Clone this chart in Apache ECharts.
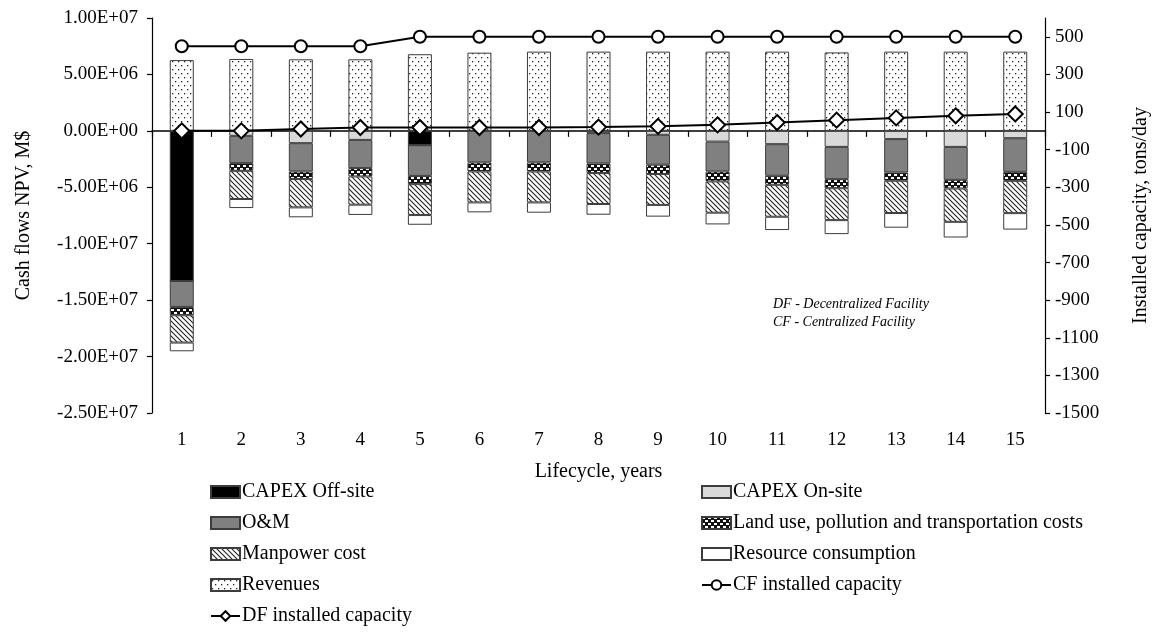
<!DOCTYPE html>
<html>
<head>
<meta charset="utf-8">
<script src="https://cdn.jsdelivr.net/npm/echarts@6/dist/echarts.min.js"></script>
<style>
html,body{margin:0;padding:0;background:#fff;}
#chart{width:1159px;height:632px;}
</style>
</head>
<body>
<div id="chart"></div>
<script>
// ---- data ----
const years = ['1','2','3','4','5','6','7','8','9','10','11','12','13','14','15'];
const capexOffsite = [-13.3e6, 0, 0, 0, -1.27e6, 0, 0, 0, 0, 0, 0, 0, 0, 0, 0];
const capexOnsite = [0, -0.44e6, -1.09e6, -0.8e6, 0, 0, 0, -0.2e6, -0.35e6, -0.95e6, -1.18e6, -1.42e6, -0.73e6, -1.42e6, -0.65e6];
const oAndM = [-2.3e6, -2.42e6, -2.51e6, -2.5e6, -2.72e6, -2.8e6, -2.8e6, -2.69e6, -2.65e6, -2.65e6, -2.8e6, -2.86e6, -2.96e6, -2.92e6, -2.98e6];
const landUse = [-0.74e6, -0.68e6, -0.67e6, -0.74e6, -0.73e6, -0.8e6, -0.8e6, -0.85e6, -0.82e6, -0.88e6, -0.8e6, -0.8e6, -0.73e6, -0.77e6, -0.8e6];
const manpower = [-2.42e6, -2.5e6, -2.51e6, -2.5e6, -2.74e6, -2.74e6, -2.74e6, -2.74e6, -2.74e6, -2.77e6, -2.83e6, -2.83e6, -2.86e6, -2.95e6, -2.86e6];
const resource = [-0.77e6, -0.8e6, -0.88e6, -0.91e6, -0.86e6, -0.88e6, -0.91e6, -0.95e6, -1.04e6, -1.04e6, -1.18e6, -1.24e6, -1.3e6, -1.39e6, -1.46e6];
const revenues = [6.27e6, 6.37e6, 6.34e6, 6.34e6, 6.79e6, 6.93e6, 7.02e6, 7.02e6, 7.02e6, 7.02e6, 7.02e6, 6.95e6, 7.02e6, 7.02e6, 7.02e6];
const cfCapacity = [450, 450, 450, 450, 500, 500, 500, 500, 500, 500, 500, 500, 500, 500, 500];
const dfCapacity = [0, 0, 10, 18, 18, 18, 18, 20, 24, 32, 44, 57, 69, 80, 90];
const rightTicks = [-1500, -1300, -1100, -900, -700, -500, -300, -100, 100, 300, 500];
const legendLeft = ['CAPEX Off-site', 'O&M', 'Manpower cost', 'Revenues', 'DF installed capacity'];
const legendRight = ['CAPEX On-site', 'Land use, pollution and transportation costs', 'Resource consumption', 'CF installed capacity'];
const lineNames = ['CF installed capacity', 'DF installed capacity'];

// ---- patterns ----
function makeTile(w, h, draw) {
  const c = document.createElement('canvas');
  c.width = w; c.height = h;
  const g = c.getContext('2d');
  draw(g, w, h);
  return { image: c, repeat: 'repeat' };
}
const dotPattern = makeTile(6, 8, (g, w, h) => {
  g.fillStyle = '#fff'; g.fillRect(0, 0, w, h);
  g.fillStyle = '#222';
  g.fillRect(1, 1, 1.3, 1.3);
  g.fillRect(4, 5, 1.3, 1.3);
});
const landPattern = makeTile(6, 6, (g, w, h) => {
  g.fillStyle = '#111'; g.fillRect(0, 0, w, h);
  g.fillStyle = '#fff';
  g.fillRect(0, 0, 3, 2);
  g.fillRect(3, 3, 3, 2);
});
const hatchPattern = makeTile(5, 5, (g, w, h) => {
  g.fillStyle = '#fff'; g.fillRect(0, 0, w, h);
  g.strokeStyle = '#222'; g.lineWidth = 1.1;
  g.beginPath();
  g.moveTo(-1, -1); g.lineTo(w + 1, h + 1);
  g.moveTo(-1, h - 1); g.lineTo(1, h + 1);
  g.moveTo(w - 1, -1); g.lineTo(w + 1, 1);
  g.stroke();
});

const FONT = '"Liberation Serif", "Times New Roman", serif';
const border = { borderColor: '#3c3c3c', borderWidth: 1 };

function barSeries(name, data, color) {
  return {
    name, type: 'bar', stack: 'cf', data, barWidth: 24,
    xAxisIndex: 0, yAxisIndex: 0,
    itemStyle: Object.assign({ color }, border),
    emphasis: { disabled: true }
  };
}
function legendData(names) {
  return names.map(n => lineNames.includes(n) ? { name: n } : { name: n, icon: 'rect' });
}
function legend(names, left) {
  return {
    orient: 'vertical', left, top: 477, itemGap: 11, itemWidth: 29, itemHeight: 12,
    textStyle: { fontFamily: FONT, fontSize: 20, color: '#000', padding: [0, 0, 0, -3] },
    selectedMode: false,
    data: legendData(names)
  };
}

const chart = echarts.init(document.getElementById('chart'), null, { renderer: 'canvas' });
const option = {
  animation: false,
  backgroundColor: '#fff',
  textStyle: { fontFamily: FONT, color: '#000' },
  grid: { left: 152, right: 112, top: 18, bottom: 219 },
  xAxis: [
    {
      type: 'category', data: years, position: 'bottom',
      axisLine: { show: false, onZero: false },
      axisTick: { show: false },
      axisLabel: { fontFamily: FONT, fontSize: 19, color: '#000', margin: 18 },
      name: 'Lifecycle, years', nameLocation: 'middle', nameGap: 49,
      nameTextStyle: { fontFamily: FONT, fontSize: 20, color: '#000' }
    },
    {
      type: 'category', data: years, position: 'bottom',
      axisLine: { show: true, onZero: true, onZeroAxisIndex: 0, lineStyle: { color: '#000', width: 1.5 } },
      axisTick: { show: true, length: 6, inside: false, lineStyle: { color: '#000', width: 1.2 } },
      axisLabel: { show: false }
    }
  ],
  yAxis: [
    {
      type: 'value', min: -2.5e7, max: 1e7, interval: 5e6, position: 'left',
      axisLine: { show: true, lineStyle: { color: '#000', width: 1.2 } },
      axisTick: { show: true, length: 5, lineStyle: { color: '#000', width: 1.2 } },
      splitLine: { show: false },
      axisLabel: {
        fontFamily: FONT, fontSize: 19, color: '#000', margin: 14,
        formatter: v => {
          if (v === 0) return '0.00E+00';
          const s = v.toExponential(2).toUpperCase();
          return s.replace(/E([+-])(\d)$/, 'E$10$2');
        }
      },
      name: 'Cash flows NPV, M$', nameLocation: 'middle', nameGap: 118,
      nameTextStyle: { fontFamily: FONT, fontSize: 20, color: '#000' }
    },
    {
      type: 'value', min: -1500, max: 600, position: 'right',
      axisLine: { show: true, lineStyle: { color: '#000', width: 1.2 } },
      axisTick: { show: true, length: 5, customValues: rightTicks, lineStyle: { color: '#000', width: 1.2 } },
      splitLine: { show: false },
      axisLabel: {
        fontFamily: FONT, fontSize: 19, color: '#000', margin: 10, customValues: rightTicks,
        formatter: v => String(v)
      },
      name: 'Installed capacity, tons/day', nameLocation: 'middle', nameGap: 86,
      nameTextStyle: { fontFamily: FONT, fontSize: 20, color: '#000' }
    }
  ],
  legend: [legend(legendLeft, 205), legend(legendRight, 696)],
  graphic: [
    {
      type: 'text', left: 773, top: 295,
      style: { text: 'DF - Decentralized Facility\nCF - Centralized Facility', font: 'italic 14px ' + FONT, fill: '#000', lineHeight: 18 }
    }
  ],
  series: [
    barSeries('CAPEX Off-site', capexOffsite, '#000'),
    barSeries('CAPEX On-site', capexOnsite, '#d9d9d9'),
    barSeries('O&M', oAndM, '#808080'),
    barSeries('Land use, pollution and transportation costs', landUse, landPattern),
    barSeries('Manpower cost', manpower, hatchPattern),
    barSeries('Resource consumption', resource, '#fff'),
    barSeries('Revenues', revenues, dotPattern),
    {
      name: 'CF installed capacity', type: 'line', data: cfCapacity, xAxisIndex: 0, yAxisIndex: 1,
      symbol: 'circle', symbolSize: 12, z: 5,
      lineStyle: { color: '#000', width: 2 },
      itemStyle: { color: '#fff', borderColor: '#000', borderWidth: 2 },
      emphasis: { disabled: true }
    },
    {
      name: 'DF installed capacity', type: 'line', data: dfCapacity, xAxisIndex: 0, yAxisIndex: 1,
      symbol: 'diamond', symbolSize: [15, 15], z: 5,
      lineStyle: { color: '#000', width: 2 },
      itemStyle: { color: '#fff', borderColor: '#000', borderWidth: 2 },
      emphasis: { disabled: true }
    }
  ]
};
chart.setOption(option);
</script>
</body>
</html>
